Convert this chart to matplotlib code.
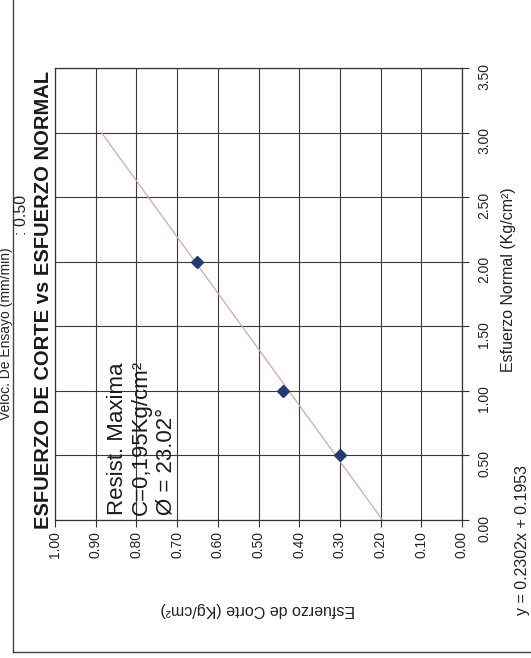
import numpy as np
import matplotlib
matplotlib.use("Agg")
import matplotlib.pyplot as plt
from matplotlib.lines import Line2D

plt.rcParams['font.family'] = ['Liberation Sans', 'DejaVu Sans']

# ensayo de corte directo: esfuerzo normal vs esfuerzo de corte (Kg/cm2)
esfuerzo_normal = [0.50, 1.00, 2.00]
esfuerzo_corte = [0.30, 0.44, 0.65]

# recta de ajuste y = 0.2302x + 0.1953
pendiente = 0.2302
intercepto = 0.1953
normal_recta = [0.0, 3.0]

ticks_corte = np.arange(0, 1.01, 0.1)
ticks_normal = np.arange(0, 3.51, 0.5)

W, H = 531, 658


def fx(x):
    return x / W


def fy(y):
    return 1 - y / H


fig = plt.figure(figsize=(W / 100, H / 100), dpi=100)
fig.patch.set_facecolor('white')

# hoja girada: el eje de corte va en horizontal (invertido), el normal en vertical
ax = fig.add_axes([fx(55), fy(520), (462 - 55) / W, (520 - 68) / H])
ax.set_xlim(1.0, 0.0)
ax.set_ylim(0, 3.5)
ax.set_xticks(ticks_corte)
ax.set_xticklabels([f'{t:.2f}' for t in ticks_corte])
ax.set_yticks(ticks_normal)
ax.set_yticklabels([f'{t:.2f}' for t in ticks_normal])
ax.yaxis.tick_right()
ax.tick_params(axis='x', rotation=90, length=5, pad=3, labelsize=10,
               color='#333333', labelcolor='#222222')
ax.tick_params(axis='y', rotation=90, length=5, pad=6, labelsize=10,
               color='#333333', labelcolor='#222222')
ax.grid(True, color='#3a3a3a', lw=0.8)
ax.set_axisbelow(True)
for s in ax.spines.values():
    s.set_color('#333333')
    s.set_linewidth(0.9)

n = np.array(normal_recta)
ax.plot(pendiente * n + intercepto, n, color='#dba5a5', lw=0.9)
ax.plot(esfuerzo_corte, esfuerzo_normal, 'D', color='#1f3c78', ms=6.5)

# textos
fig.text(fx(44), fy(300), 'ESFUERZO DE CORTE vs ESFUERZO NORMAL', rotation=90,
         ha='center', va='center', fontsize=14.5, weight='bold', color='#1a1a1a')
fig.text(fx(107), fy(515), 'Resist. Maxima\nC=0,195Kg/cm²\nØ = 23.02°', rotation=90,
         ha='left', va='bottom', fontsize=16, multialignment='left', color='#1a1a1a')
fig.text(fx(258), fy(610), 'Esfuerzo de Corte (Kg/cm²)', rotation=180,
         ha='center', va='center', fontsize=11.5, color='#222222')
fig.text(fx(508), fy(280), 'Esfuerzo Normal (Kg/cm²)', rotation=90,
         ha='center', va='center', fontsize=11.5, color='#222222')
fig.text(fx(523), fy(615), 'y = 0.2302x + 0.1953', rotation=90,
         ha='center', va='bottom', fontsize=11.5, color='#222222')
fig.text(fx(6), fy(420), 'Veloc. De Ensayo (mm/min)', rotation=90,
         ha='center', va='bottom', fontsize=10, color='#222222')
fig.text(fx(22), fy(235), ': 0.50', rotation=90,
         ha='center', va='bottom', fontsize=11.5, color='#222222')

# marco de la hoja
fig.add_artist(Line2D([fx(13), fx(13)], [1, fy(652)], color='#444444', lw=1,
                      transform=fig.transFigure))
fig.add_artist(Line2D([fx(13), 1], [fy(652), fy(652)], color='#444444', lw=1,
                      transform=fig.transFigure))

fig.savefig('out.png', dpi=100)
